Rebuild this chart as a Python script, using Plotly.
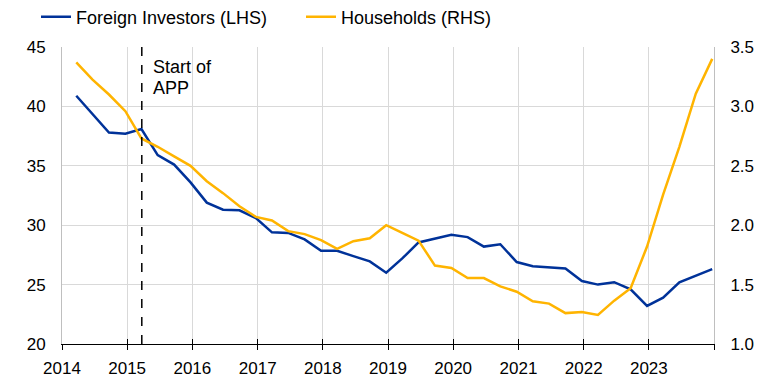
import pandas as pd
import plotly.graph_objects as go

# quarterly observations 2014Q1 .. 2023Q4
quarters = pd.period_range("2014Q1", "2023Q4", freq="Q")
foreign_investors = [40.9, 39.4, 37.8, 37.7, 38.1, 35.9, 35.1, 33.6, 31.9, 31.3,
                     31.25, 30.6, 29.4, 29.35, 28.8, 27.85, 27.85, 27.4, 26.95, 26.0,
                     27.2, 28.55, 28.85, 29.2, 29.0, 28.2, 28.4, 26.9, 26.55, 26.45,
                     26.35, 25.3, 25.0, 25.2, 24.6, 23.2, 23.9, 25.2, 25.75, 26.3]
households = [3.37, 3.225, 3.10, 2.96, 2.73, 2.66, 2.58, 2.50, 2.37, 2.27,
              2.16, 2.07, 2.04, 1.95, 1.925, 1.875, 1.80, 1.865, 1.89, 2.00,
              1.935, 1.87, 1.66, 1.64, 1.555, 1.555, 1.485, 1.44, 1.36, 1.34,
              1.26, 1.27, 1.245, 1.365, 1.47, 1.82, 2.257, 2.66, 3.107, 3.40]
year_ticks = [str(y) for y in range(2014, 2025)]
year_labels = [str(y) for y in range(2014, 2024)] + [""]
app_start = "2015-03-24"

# place each quarter slightly before its end date
x = [(q.end_time - pd.Timedelta(days=9)).strftime("%Y-%m-%d") for q in quarters]
tickvals = [f"{y}-01-01" for y in year_ticks]

BLUE = "#003299"
YELLOW = "#FFB400"
GRID = "#d9d9d9"
FONT = "Arial, Liberation Sans, sans-serif"

fig = go.Figure()
fig.add_trace(go.Scatter(x=x, y=foreign_investors, name="Foreign Investors (LHS)",
                         mode="lines", line=dict(color=BLUE, width=2.5)))
fig.add_trace(go.Scatter(x=x, y=households, name="Households (RHS)", yaxis="y2",
                         mode="lines", line=dict(color=YELLOW, width=2.5)))
# invisible helper trace for inside tick marks
fig.add_trace(go.Scatter(x=[x[0]], y=[foreign_investors[0]], xaxis="x2", mode="lines",
                         showlegend=False, hoverinfo="skip", opacity=0))

fig.add_shape(type="line", x0=app_start, x1=app_start, y0=0, y1=1, xref="x", yref="paper",
              line=dict(color="black", width=1.5, dash="dash"))
fig.add_annotation(x=app_start, y=(344.3 - 67.5) / 297, xref="x", yref="paper",
                   text="Start of", showarrow=False, xanchor="left", yanchor="middle",
                   xshift=9, font=dict(size=18, color="black", family=FONT))
fig.add_annotation(x=app_start, y=(344.3 - 88) / 297, xref="x", yref="paper",
                   text="APP", showarrow=False, xanchor="left", yanchor="middle",
                   xshift=9, font=dict(size=18, color="black", family=FONT))

xrange = ["2014-01-01", "2024-01-01"]
fig.update_layout(
    width=768, height=383,
    margin=dict(l=61.5, r=54, t=47.3, b=38.7, autoexpand=False),
    plot_bgcolor="white", paper_bgcolor="white",
    font=dict(family=FONT, size=17, color="black"),
    showlegend=True,
    legend=dict(orientation="h", xref="container", yref="container",
                x=36 / 768, xanchor="left", y=1 - 17 / 383, yanchor="middle",
                font=dict(size=18), bgcolor="rgba(0,0,0,0)",
                entrywidth=220, entrywidthmode="pixels"),
    xaxis=dict(type="date", range=xrange, tickvals=tickvals, ticktext=year_labels,
               showgrid=True, gridcolor=GRID, gridwidth=1, automargin=False,
               showline=True, linecolor="black", linewidth=1,
               ticks="outside", ticklen=5, tickcolor="black", tickwidth=1,
               ticklabelstandoff=4, zeroline=False),
    xaxis2=dict(type="date", range=xrange, tickvals=tickvals, overlaying="x",
                anchor="y", side="bottom", showgrid=False, showticklabels=False,
                ticks="inside", ticklen=5, tickcolor="black", tickwidth=1,
                showline=False, zeroline=False, automargin=False),
    yaxis=dict(range=[20, 45], dtick=5, showgrid=True, gridcolor=GRID, gridwidth=1,
               showline=True, linecolor="#bfbfbf", linewidth=1, ticks="",
               ticklabelstandoff=12, zeroline=False, automargin=False),
    yaxis2=dict(range=[1, 3.5], dtick=0.5, tickformat=".1f", overlaying="y", side="right",
                showgrid=False, showline=True, linecolor="#bfbfbf", linewidth=1,
                ticks="", ticklabelstandoff=12, zeroline=False, automargin=False),
)

fig.write_html("out.html", config={"displayModeBar": False},
               post_script="document.body.style.margin='0px';")
